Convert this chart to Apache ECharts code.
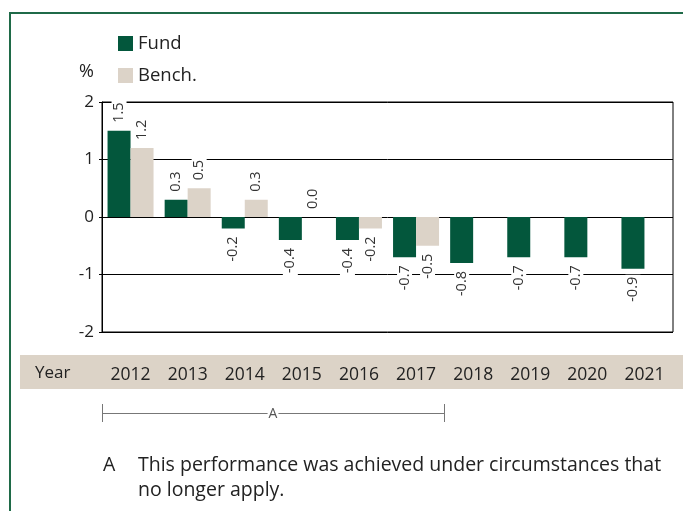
<!DOCTYPE html>
<html>
<head>
<meta charset="utf-8">
<script src="https://cdn.jsdelivr.net/npm/echarts@6/dist/echarts.min.js"></script>
<style>
  html, body { margin: 0; padding: 0; background: #fff; }
  #main { width: 683px; height: 511px; }
</style>
</head>
<body>
<div id="main"></div>
<script>
// 資料
let years = ['2012', '2013', '2014', '2015', '2016', '2017', '2018', '2019', '2020', '2021'];
let fund = [1.5, 0.3, -0.2, -0.4, -0.4, -0.7, -0.8, -0.7, -0.7, -0.9];
let bench = [1.2, 0.5, 0.3, 0.0, -0.2, -0.5, null, null, null, null];
let yTicks = [-2, -1, 0, 1, 2];

let fontFam = '"Open Sans", "Noto Sans", sans-serif';

// 柱上的數字標籤，正值朝上、負值朝下
function withLabels(arr) {
  return arr.map(v => {
    if (v === null) return null;
    let up = v >= 0;
    return {
      value: v,
      label: {
        position: up ? 'top' : 'bottom',
        align: up ? 'left' : 'right',
        verticalAlign: 'middle'
      }
    };
  });
}

let barLabel = {
  show: true,
  rotate: 90,
  distance: 6,
  fontSize: 14.5,
  color: '#333',
  fontFamily: fontFam,
  backgroundColor: '#fff',
  padding: [0, 2],
  formatter: p => p.value.toFixed(1)
};

let chart = echarts.init(document.getElementById('main'));
let option = {
  animation: false,
  textStyle: {fontFamily: fontFam},
  legend: {
    orient: 'vertical',
    left: 113,
    top: 29,
    itemWidth: 15,
    itemHeight: 15,
    itemGap: 13,
    icon: 'rect',
    textStyle: {fontSize: 18.5, color: '#222', fontFamily: fontFam},
    data: ['Fund', 'Bench.']
  },
  grid: {
    left: 102,
    right: 10,
    top: 102,
    bottom: 179,
    show: true,
    borderColor: '#000',
    borderWidth: 1,
    backgroundColor: 'transparent'
  },
  xAxis: {
    type: 'category',
    data: years,
    axisLine: {show: false},
    axisTick: {show: false},
    axisLabel: {margin: 34, fontSize: 17.5, color: '#222', fontFamily: fontFam}
  },
  yAxis: {
    type: 'value',
    min: yTicks[0],
    max: yTicks[yTicks.length - 1],
    interval: 1,
    axisLine: {show: true, lineStyle: {color: '#000', width: 1}},
    axisTick: {show: true, length: 3, lineStyle: {color: '#000'}},
    axisLabel: {margin: 8, fontSize: 17, color: '#222', fontFamily: fontFam},
    splitLine: {show: true, lineStyle: {color: '#000', width: 1}}
  },
  series: [
    {
      name: 'Fund',
      type: 'bar',
      barWidth: 23,
      barGap: '0%',
      itemStyle: {color: '#03573c'},
      label: barLabel,
      data: withLabels(fund),
      z: 3
    },
    {
      name: 'Bench.',
      type: 'bar',
      barWidth: 23,
      barGap: '0%',
      itemStyle: {color: '#dcd3c8'},
      label: barLabel,
      data: withLabels(bench),
      z: 3
    }
  ],
  graphic: [
    // 綠色外框
    {type: 'polyline', shape: {points: [[10, 512], [10, 13], [684, 13]]},
      style: {stroke: '#1f6a48', lineWidth: 2, fill: null}, z: 10},
    {type: 'text', left: 79, top: 63, style: {text: '%', fill: '#222', font: '18px ' + fontFam}},
    // 年份底色
    {type: 'rect', shape: {x: 20, y: 355, width: 670, height: 34}, style: {fill: '#dcd3c7'}, z: -10},
    {type: 'text', left: 35, top: 365, style: {text: 'Year', fill: '#222', font: '17px ' + fontFam}},
    // A 區間
    {type: 'line', shape: {x1: 102, y1: 413.5, x2: 444, y2: 413.5}, style: {stroke: '#777', lineWidth: 1}},
    {type: 'line', shape: {x1: 102.5, y1: 404, x2: 102.5, y2: 422}, style: {stroke: '#777', lineWidth: 1}},
    {type: 'line', shape: {x1: 444.5, y1: 404, x2: 444.5, y2: 422}, style: {stroke: '#777', lineWidth: 1}},
    {type: 'text', x: 273, y: 414, style: {text: 'A', fill: '#555', font: '14px ' + fontFam,
      align: 'center', verticalAlign: 'middle', backgroundColor: '#fff', padding: [0, 1]}},
    // 註解
    {type: 'text', left: 103, top: 455, style: {text: 'A', fill: '#222', font: '19.5px ' + fontFam}},
    {type: 'text', left: 138, top: 455, style: {text: 'This performance was achieved under circumstances that', fill: '#222', font: '19.5px ' + fontFam}},
    {type: 'text', left: 138, top: 480, style: {text: 'no longer apply.', fill: '#222', font: '19.5px ' + fontFam}}
  ]
};
chart.setOption(option);
</script>
</body>
</html>
